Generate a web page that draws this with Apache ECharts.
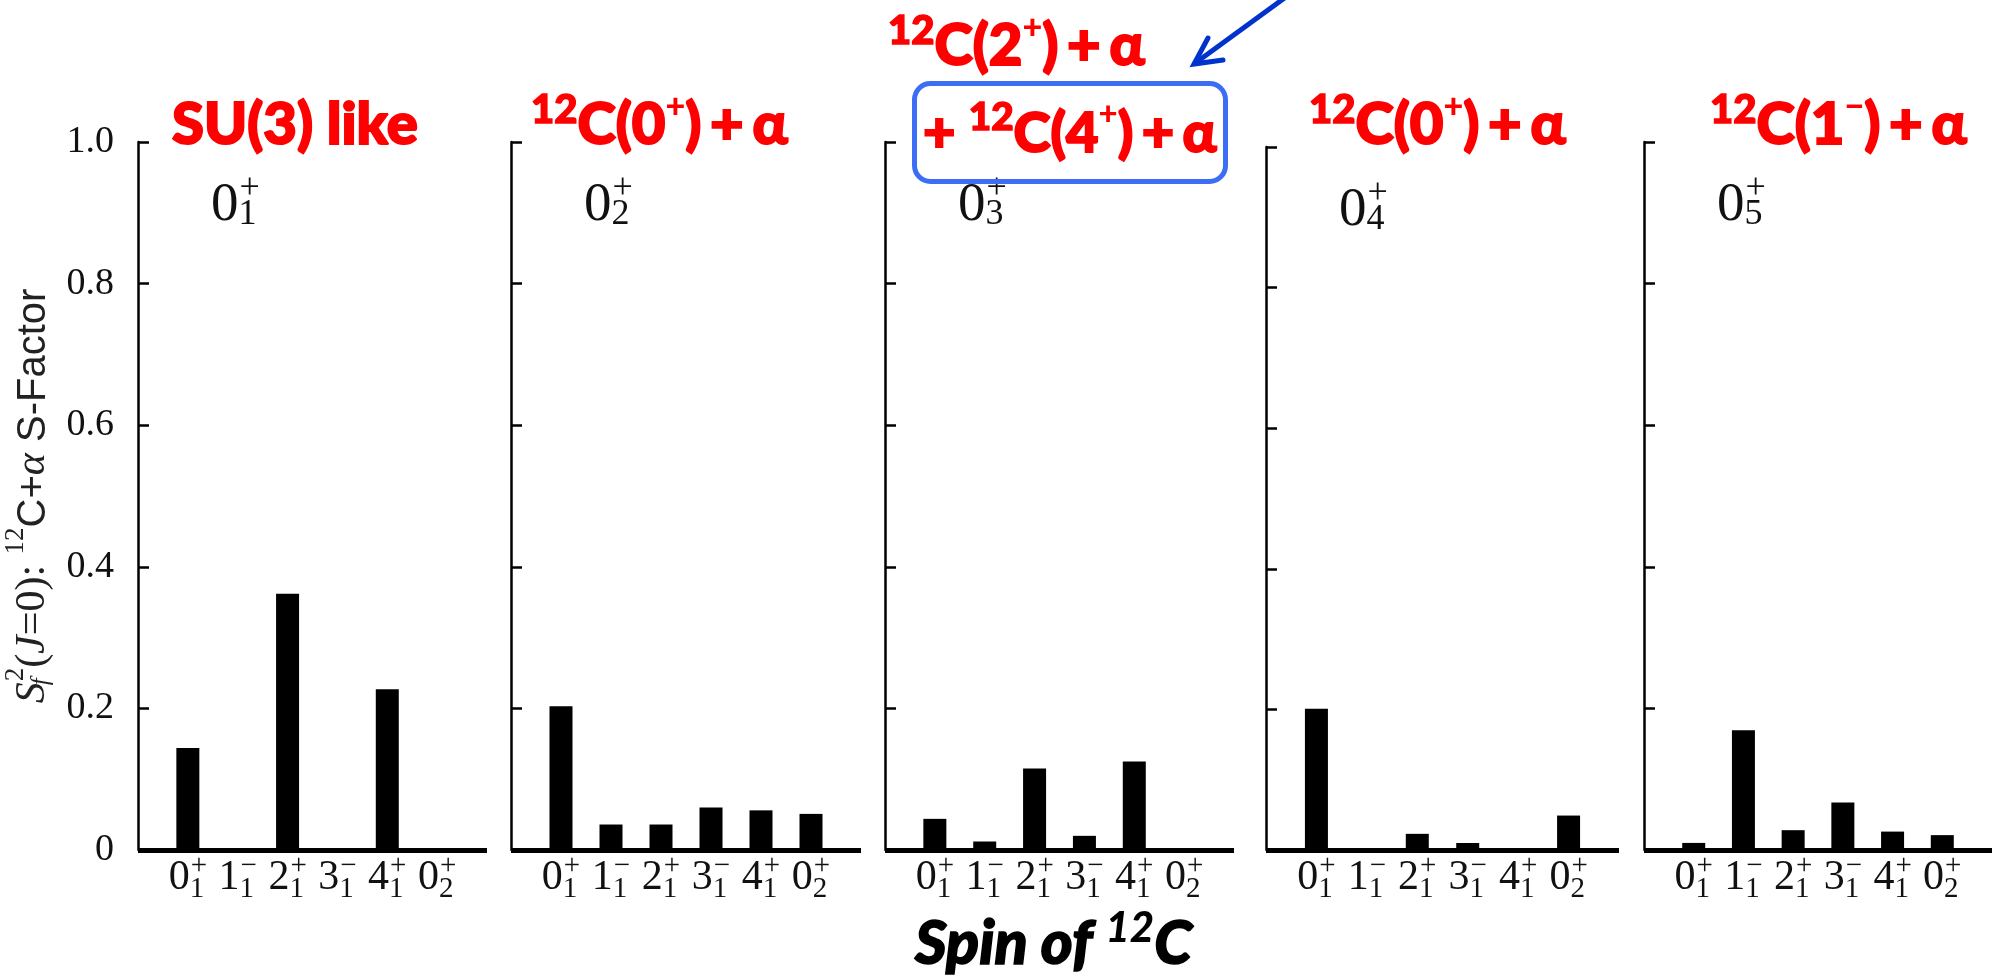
<!DOCTYPE html>
<html>
<head>
<meta charset="utf-8">
<script src="https://cdn.jsdelivr.net/npm/echarts@6/dist/echarts.min.js"></script>
<style>
  html, body { margin: 0; padding: 0; background: #ffffff; }
  #chart { width: 1999px; height: 978px; }
</style>
</head>
<body>
<div id="chart"></div>
<script>
// 12C spin states on the horizontal axis: J, index, parity
const spinValue = ['0', '1', '2', '3', '4', '0'];
const spinIndex = ['1', '1', '1', '1', '1', '2'];
const spinParity = ['+', '\u2212', '+', '\u2212', '+', '+'];

// vertical tick labels
const yTickValues = [0, 0.2, 0.4, 0.6, 0.8, 1.0];
const yTickLabels = ['0', '0.2', '0.4', '0.6', '0.8', '1.0'];

// the five 0+ states of 16O, one per panel
const stateIndex = ['1', '2', '3', '4', '5'];

// 12C + alpha S-factors of each 0+ state, per 12C spin state
const sfactor01 = [0.144, 0, 0.362, 0, 0.227, 0];
const sfactor02 = [0.203, 0.036, 0.036, 0.060, 0.056, 0.051];
const sfactor03 = [0.044, 0.012, 0.115, 0.020, 0.125, 0];
const sfactor04 = [0.201, 0, 0.023, 0.010, 0, 0.049];
const sfactor05 = [0.010, 0.169, 0.028, 0.067, 0.026, 0.021];

// panel headings (rich-text token strings)
const headings = [
  '{n|SU(3) like}',
  '{s|12}{n|C(0}{q|+}{n|)}{g| }{n|+}{g| }{n|\u03b1}',
  '{s|12}{n|C(2}{q|+}{n|)}{g| }{n|+}{g| }{n|\u03b1}',
  '{s|12}{n|C(0}{q|+}{n|)}{g| }{n|+}{g| }{n|\u03b1}',
  '{s|12}{n|C(1}{q|\u2212}{n|)}{g| }{n|+}{g| }{n|\u03b1}'
];
const boxedHeading = '{n|+ }{s|12}{n|C(4}{q|+}{n|)}{g| }{n|+}{g| }{n|\u03b1}';

const sfactors = [sfactor01, sfactor02, sfactor03, sfactor04, sfactor05];

// panel geometry
const panelLeft = [138, 511, 885, 1266, 1644];
const panelWidth = [349, 350, 349, 353, 348];
const panelTop = [142, 142, 142, 147, 142];
const axisBottom = 850;
const headingLeft = [172, 531, 888, 1309, 1710];
const headingTop = [90, 90, 11, 90, 90];

const SERIF = '"Liberation Serif", "Times New Roman", serif';
const SANS = '"Liberation Sans", Arial, sans-serif';
const DISPLAY = 'Lato, "Noto Sans", sans-serif';
const RED = '#ff0000';
const INK = '#111111';

const spinRich = {
  z: { fontFamily: SERIF, fontWeight: 'normal', fontSize: 42, color: INK, align: 'left', verticalAlign: 'bottom', padding: [0, 0, 5, 0], lineHeight: 52 },
  b: { fontFamily: SERIF, fontWeight: 'normal', fontSize: 29, color: INK, align: 'left', verticalAlign: 'bottom', width: 1 },
  p: { fontFamily: SERIF, fontWeight: 'normal', fontSize: 29, color: INK, align: 'left', verticalAlign: 'top' }
};

function headingRich(size) {
  return {
    n: { fontFamily: DISPLAY, fontWeight: 900, fontSize: size, color: RED, textBorderColor: RED, textBorderWidth: 2, verticalAlign: 'bottom', lineHeight: 64 },
    s: { fontFamily: DISPLAY, fontWeight: 900, fontSize: size * 0.69, color: RED, textBorderColor: RED, textBorderWidth: 1.5, verticalAlign: 'top' },
    q: { fontFamily: DISPLAY, fontWeight: 900, fontSize: size * 0.59, color: RED, verticalAlign: 'top' },
    g: { fontFamily: DISPLAY, fontSize: size * 0.62, color: RED, verticalAlign: 'bottom' }
  };
}

const stateRich = {
  z: { fontFamily: SERIF, fontWeight: 'normal', fontSize: 55, color: INK, align: 'left', verticalAlign: 'bottom', lineHeight: 62 },
  b: { fontFamily: SERIF, fontWeight: 'normal', fontSize: 36, color: INK, align: 'left', verticalAlign: 'bottom', width: 1 },
  p: { fontFamily: SERIF, fontWeight: 'normal', fontSize: 36, color: INK, align: 'left', verticalAlign: 'top' }
};

const grids = [], xAxes = [], yAxes = [], series = [], titles = [];

sfactors.forEach(function (vals, i) {
  grids.push({
    left: panelLeft[i], top: panelTop[i], width: panelWidth[i],
    height: axisBottom - panelTop[i], containLabel: false, outerBoundsMode: 'none'
  });
  xAxes.push({
    type: 'value', gridIndex: i, min: -1, max: 6, interval: 1,
    axisLine: { show: true, onZero: false, lineStyle: { color: '#000', width: 5, cap: 'butt' } },
    axisTick: { show: false },
    splitLine: { show: false },
    axisLabel: {
      show: true, margin: 2, showMinLabel: true, showMaxLabel: true,
      formatter: function (v) {
        const k = Math.round(v);
        if (k < 0 || k >= spinValue.length) return '';
        return '{z|' + spinValue[k] + '}{b|' + spinIndex[k] + '}{p|' + spinParity[k] + '}';
      },
      rich: spinRich
    }
  });
  const yAxis = {
    type: 'value', gridIndex: i, min: 0, max: 1, interval: 0.2,
    axisLine: { show: true, onZero: false, lineStyle: { color: '#000', width: 2.5 } },
    axisTick: { show: true, inside: true, length: 11, lineStyle: { color: '#000', width: 2.5 } },
    splitLine: { show: false },
    axisLabel: {
      show: i === 0, margin: 24, fontFamily: SERIF, fontSize: 38, color: INK,
      formatter: function (v) {
        const k = yTickValues.findIndex(function (t) { return Math.abs(t - v) < 1e-9; });
        return k >= 0 ? yTickLabels[k] : '';
      }
    }
  };
  if (i === 0) {
    yAxis.name = '{si|S}{sb|f}{sp|2}{r|(}{ri|J}{r|=0): }{sm|12}{sa|C+}{ai|\u03b1}{sa| S-Factor}';
    yAxis.nameLocation = 'middle';
    yAxis.nameRotate = 90;
    yAxis.nameGap = 84;
    yAxis.nameTextStyle = {
      color: '#222',
      rich: {
        si: { fontFamily: SERIF, fontStyle: 'italic', fontSize: 42, color: '#222', verticalAlign: 'bottom', lineHeight: 52 },
        sb: { fontFamily: SERIF, fontStyle: 'italic', fontSize: 25, color: '#222', verticalAlign: 'bottom', align: 'left', width: 1 },
        sp: { fontFamily: SERIF, fontSize: 27, color: '#222', verticalAlign: 'top', align: 'left' },
        r: { fontFamily: SERIF, fontSize: 42, color: '#222', verticalAlign: 'bottom', lineHeight: 52 },
        ri: { fontFamily: SERIF, fontStyle: 'italic', fontSize: 42, color: '#222', verticalAlign: 'bottom', lineHeight: 52 },
        sm: { fontFamily: SERIF, fontSize: 27, color: '#222', verticalAlign: 'top' },
        sa: { fontFamily: SANS, fontSize: 40, color: '#222', verticalAlign: 'bottom', lineHeight: 52 },
        ai: { fontFamily: SERIF, fontStyle: 'italic', fontSize: 42, color: '#222', verticalAlign: 'bottom', lineHeight: 52 }
      }
    };
  }
  yAxes.push(yAxis);
  series.push({
    type: 'bar', xAxisIndex: i, yAxisIndex: i, silent: true, z: 3,
    barWidth: 23,
    itemStyle: { color: '#000' },
    data: vals.map(function (v, k) { return [k, v]; })
  });
  // state label inside each panel
  titles.push({
    text: '{z|0}{b|' + stateIndex[i] + '}{p|+}',
    left: panelLeft[i] + 73, top: panelTop[i] + 29, padding: 0,
    textStyle: { fontWeight: 'normal', rich: stateRich }
  });
  // red heading above each panel
  titles.push({
    text: headings[i], left: headingLeft[i], top: headingTop[i], padding: 0,
    textStyle: { rich: headingRich(58) }
  });
});

titles.push({
  text: boxedHeading, left: 923, top: 98, padding: 0,
  textStyle: { rich: headingRich(56) }
});
titles.push({
  text: '{n|Spin of }{s|12}{n|C}', left: 915, top: 907, padding: 0,
  textStyle: {
    rich: {
      n: { fontFamily: DISPLAY, fontWeight: 900, fontStyle: 'italic', fontSize: 61, color: '#000', textBorderColor: '#000', textBorderWidth: 1.5, verticalAlign: 'bottom', lineHeight: 68 },
      s: { fontFamily: DISPLAY, fontWeight: 900, fontStyle: 'italic', fontSize: 42, color: '#000', verticalAlign: 'top' }
    }
  }
});

const chart = echarts.init(document.getElementById('chart'), null, { renderer: 'canvas' });
chart.setOption({
  backgroundColor: '#ffffff',
  animation: false,
  title: titles,
  grid: grids,
  xAxis: xAxes,
  yAxis: yAxes,
  series: series,
  graphic: [
    {
      type: 'rect', silent: true, z: 10,
      shape: { x: 914.5, y: 83.5, width: 311, height: 98, r: 16 },
      style: { fill: 'none', stroke: '#3b6ef5', lineWidth: 5 }
    },
    {
      type: 'polyline', silent: true, z: 10,
      shape: { points: [[1290, -6], [1194, 64]] },
      style: { stroke: '#0033cc', lineWidth: 5, fill: 'none' }
    },
    {
      type: 'polyline', silent: true, z: 10,
      shape: { points: [[1208, 38], [1194, 64], [1223, 60]] },
      style: { stroke: '#0033cc', lineWidth: 5, fill: 'none', lineJoin: 'miter', lineCap: 'round' }
    }
  ]
});
</script>
</body>
</html>
